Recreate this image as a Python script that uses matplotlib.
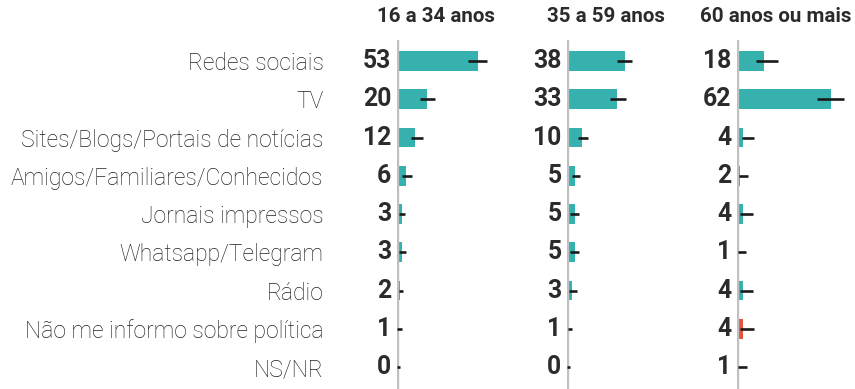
import numpy as np
import matplotlib.pyplot as plt

# Fontes de informação política por faixa etária (%)
categorias = ['Redes sociais', 'TV', 'Sites/Blogs/Portais de notícias',
              'Amigos/Familiares/Conhecidos', 'Jornais impressos',
              'Whatsapp/Telegram', 'Rádio', 'Não me informo sobre política', 'NS/NR']
faixas = ['16 a 34 anos', '35 a 59 anos', '60 anos ou mais']

val_16_34 = [53, 20, 12, 6, 3, 3, 2, 1, 0]
val_35_59 = [38, 33, 10, 5, 5, 5, 3, 1, 0]
val_60 = [18, 62, 4, 2, 4, 1, 4, 4, 1]

# intervalo de confiança (limite inferior / superior)
ic_baixo_16_34 = [47, 15, 9, 3, 1, 1, 1, 0, 0]
ic_alto_16_34 = [59, 25, 17, 10, 5, 6, 4, 3, 2]
ic_baixo_35_59 = [33, 28, 7, 3, 2, 2, 1.3, 0.5, 0]
ic_alto_35_59 = [43, 39, 14, 8.5, 8, 8, 6.5, 3, 2]
ic_baixo_60 = [12.5, 52.5, 3, 1.3, 2, 0.5, 2, 2, 0.5]
ic_alto_60 = [27, 70.5, 11, 7, 10.5, 6, 10.5, 11, 6.5]

valores = [val_16_34, val_35_59, val_60]
ic_baixo = [ic_baixo_16_34, ic_baixo_35_59, ic_baixo_60]
ic_alto = [ic_alto_16_34, ic_alto_35_59, ic_alto_60]

TEAL = '#36b1ae'
VERMELHO = '#e4553f'
TEXTO = '#2b2b2b'

W, H = 855, 389
fig = plt.figure(figsize=(W / 100, H / 100), dpi=100)

px_unidade = 1.52  # pixels por ponto percentual
xmax = 80
y = np.arange(len(categorias))
cores = [VERMELHO if c.startswith('Não me') else TEAL for c in categorias]

eixos_x = [397, 567, 737]
for k, x0 in enumerate(eixos_x):
    ax = fig.add_axes([x0 / W, 0, xmax * px_unidade / W, 1 - 40 / H])
    ax.barh(y, valores[k], height=0.52, color=cores, zorder=2)
    ax.hlines(y, ic_baixo[k], ic_alto[k], color='#1a1a1a', lw=1.9, zorder=4)
    ax.axvline(0, color='#c0c0c0', lw=2.4, zorder=3)
    for yi, v in zip(y, valores[k]):
        ax.annotate(str(v), (0, yi), xytext=(-4, 0), textcoords='offset points',
                    ha='right', va='center', fontsize=17.8, fontweight='bold',
                    family='Roboto', color=TEXTO)
    ax.set_xlim(0, xmax)
    ax.set_ylim(8.575, -0.549)
    ax.set_xticks([])
    for s in ax.spines.values():
        s.set_visible(False)
    if k == 0:
        ax.set_yticks(y)
        ax.set_yticklabels(categorias, fontsize=16.5, family='Roboto',
                           fontweight='light', color='#222222')
        ax.tick_params(axis='y', length=0, pad=53)
    else:
        ax.set_yticks([])
    fig.text((x0 + 39) / W, 1 - 17 / H, faixas[k], ha='center', va='center',
             fontsize=14.8, fontweight='bold', family='Roboto', color=TEXTO)

fig.savefig('out.png', dpi=100)
